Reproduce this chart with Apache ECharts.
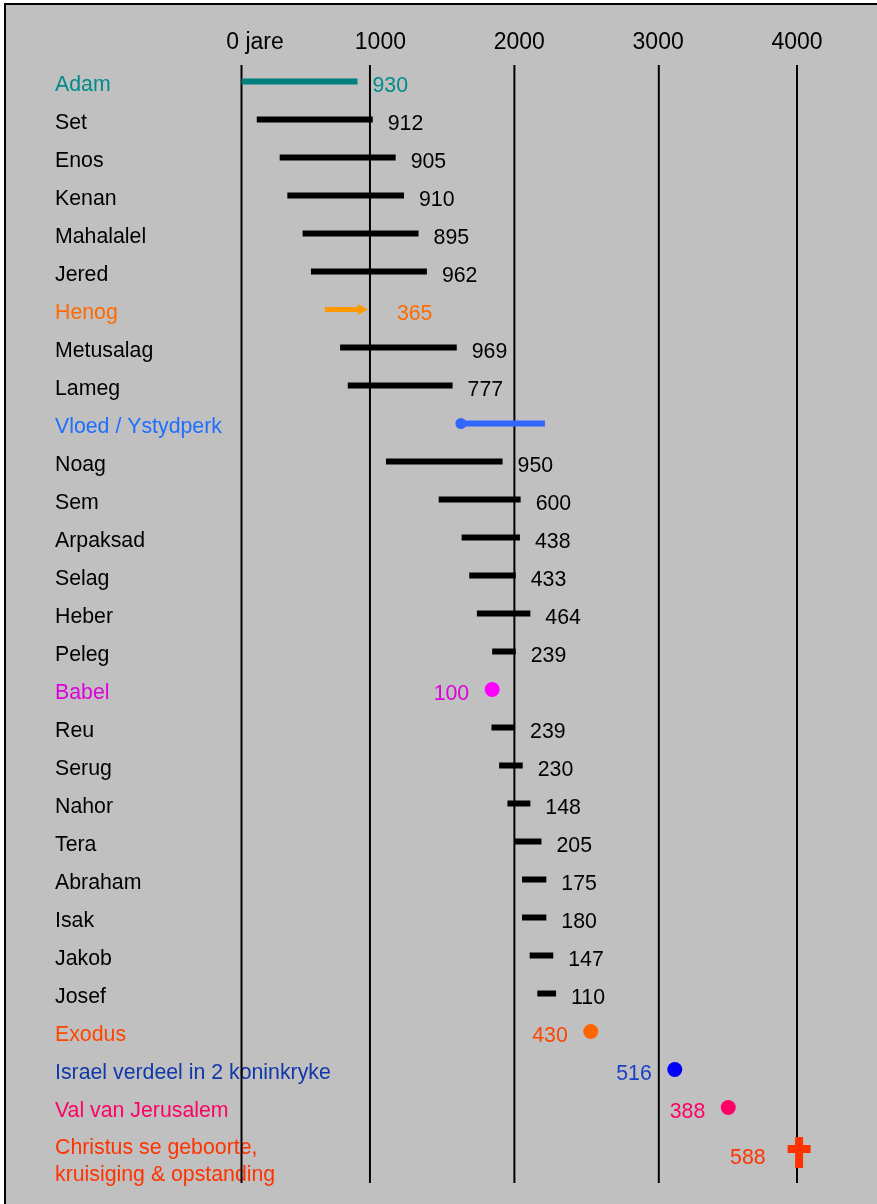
<!DOCTYPE html>
<html>
<head>
<meta charset="utf-8">
<script src="https://cdn.jsdelivr.net/npm/echarts@6/dist/echarts.min.js"></script>
<style>
html,body{margin:0;padding:0;background:#fff;}
#c{width:877px;height:1204px;}
</style>
</head>
<body>
<div id="c"></div>
<script>
// ---- data ----
const names = ['Adam','Set','Enos','Kenan','Mahalalel','Jered','Henog','Metusalag','Lameg','Vloed / Ystydperk','Noag','Sem','Arpaksad','Selag','Heber','Peleg','Babel','Reu','Serug','Nahor','Tera','Abraham','Isak','Jakob','Josef','Exodus','Israel verdeel in 2 koninkryke','Val van Jerusalem','Christus se geboorte,\nkruisiging & opstanding'];
const kinds = ['bar','bar','bar','bar','bar','bar','arrow','bar','bar','flood','bar','bar','bar','bar','bar','bar','dot','bar','bar','bar','bar','bar','bar','bar','bar','dot','dot','dot','cross'];
const starts = [0,110,275,330,440,500,600,710,765,1580,1040,1420,1585,1640,1695,1805,1805,1800,1855,1915,1970,2020,2020,2075,2130,2515,3120,3505,4015];
const ends   = [835,945,1110,1170,1275,1335,910,1550,1520,2185,1880,2010,2005,1975,2080,1975,1805,1970,2025,2080,2160,2195,2195,2245,2265,2515,3120,3505,4015];
const years  = ['930','912','905','910','895','962','365','969','777','','950','600','438','433','464','239','100','239','230','148','205','175','180','147','110','430','516','388','588'];
const tickValues = [0,1000,2000,3000,4000];
const tickLabels = ['0 jare','1000','2000','3000','4000'];
const gridYears = [0,925,1965,3005,4000];

// ---- styles ----
const nameColors = {0:'#008B8B',6:'#FF6A00',9:'#1E6EFF',16:'#DD00DD',25:'#FF4400',26:'#1038A8',27:'#FF0066',28:'#FF3300'};
const valueColors = {0:'#008B8B',6:'#FF6A00',16:'#DD00DD',25:'#FF4400',26:'#1A40C8',27:'#FF0066',28:'#FF3300'};
const markColors = {0:'#007F7F',6:'#FF9900',9:'#3366FF',16:'#FF00FF',25:'#FF6600',26:'#0000FF',27:'#FF0066',28:'#FF3300'};
const FONT = '"Liberation Sans", Arial, sans-serif';
const FS = 21.3;

const chart = echarts.init(document.getElementById('c'));
const catData = names.map((n,i)=>({value:n, textStyle:{color:nameColors[i]||'#000',align:'left',fontSize:FS,fontFamily:FONT}}));
const rows = names.map((n,i)=>[i, starts[i], ends[i]]);

function renderRow(params, api){
  const i = api.value(0);
  const s = api.value(1), e = api.value(2);
  const a = api.coord([s,i]), b = api.coord([e,i]);
  const kind = kinds[i];
  const mc = markColors[i] || '#000';
  const vc = valueColors[i] || '#000';
  const txt = (x,y,t,align)=>({type:'text',style:{x:x,y:y,text:t,fill:vc,fontSize:FS,fontFamily:FONT,align:align,verticalAlign:'middle'}});
  const ch = [];
  const y = a[1];
  if(kind==='bar'){
    ch.push({type:'line',shape:{x1:a[0],y1:y,x2:b[0],y2:y},style:{stroke:mc,lineWidth:6,lineCap:'butt'}});
    ch.push(txt(b[0]+15,y+4.5,years[i],'left'));
  } else if(kind==='arrow'){
    ch.push({type:'line',shape:{x1:a[0],y1:y,x2:b[0]-8,y2:y},style:{stroke:mc,lineWidth:5}});
    ch.push({type:'polygon',shape:{points:[[b[0]-10,y-5.5],[b[0],y],[b[0]-10,y+5.5]]},style:{fill:mc}});
    ch.push(txt(b[0]+29,y+4.5,years[i],'left'));
  } else if(kind==='flood'){
    ch.push({type:'line',shape:{x1:a[0],y1:y,x2:b[0],y2:y},style:{stroke:mc,lineWidth:6}});
    ch.push({type:'circle',shape:{cx:a[0],cy:y,r:5.5},style:{fill:mc}});
  } else if(kind==='dot'){
    ch.push({type:'circle',shape:{cx:a[0],cy:y,r:7.5},style:{fill:mc}});
    ch.push(txt(a[0]-23,y+4.5,years[i],'right'));
  } else if(kind==='cross'){
    ch.push({type:'rect',shape:{x:a[0]-4,y:y-8.5,width:8,height:31},style:{fill:mc}});
    ch.push({type:'rect',shape:{x:a[0]-11.5,y:y-0.5,width:23,height:8},style:{fill:mc}});
    ch.push(txt(a[0]-33.5,y+13,years[i],'right'));
  }
  return {type:'group',children:ch};
}

function renderGrid(params, api){
  const v = api.value(0);
  const t = api.coord([v,0]);
  const bt = api.coord([v,names.length-1]);
  return {type:'line',shape:{x1:t[0],y1:t[1]-16.5,x2:t[0],y2:bt[1]+37.5},style:{stroke:'#000',lineWidth:2}};
}

function nameFormatter(v){
  const parts = String(v).split('\n');
  if(parts.length===1) return '{n|'+v+'}';
  return '{c1|'+parts[0]+'}\n{c2|'+parts[1]+'}';
}

chart.setOption({
  backgroundColor:'#ffffff',
  animation:false,
  graphic:[{type:'rect',z:-100,silent:true,shape:{x:5,y:4,width:900,height:1230},style:{fill:'#C0C0C0',stroke:'#000',lineWidth:2}}],
  grid:{left:241.5,right:80,top:62.5,bottom:39.5,containLabel:false,outerBoundsMode:'none'},
  xAxis:{type:'value',position:'top',min:0,max:4000,interval:1000,
    axisLine:{show:false},axisTick:{show:false},splitLine:{show:false},
    axisLabel:{margin:8,fontSize:23,fontFamily:FONT,color:'#000',
      formatter:function(v){const k=tickValues.indexOf(v);return k===0?'{z|'+tickLabels[0]+'}':tickLabels[k];},
      rich:{z:{fontSize:23,fontFamily:FONT,color:'#000',padding:[0,0,0,27]}}}},
  yAxis:{type:'category',inverse:true,data:catData,
    axisLine:{show:false},axisTick:{show:false},splitLine:{show:false},
    axisLabel:{align:'left',margin:186.5,fontSize:FS,fontFamily:FONT,color:'#000',interval:0,
      formatter:nameFormatter,
      rich:{
        n:{fontSize:FS,fontFamily:FONT,padding:[8,0,0,0]},
        c1:{fontSize:FS,fontFamily:FONT,padding:[33,0,0,0]},
        c2:{fontSize:FS,fontFamily:FONT,padding:[6,0,0,0]}
      }}},
  series:[
    {type:'custom',z:1,renderItem:renderGrid,data:gridYears.map(v=>[v]),encode:{x:0},silent:true},
    {type:'custom',z:2,renderItem:renderRow,data:rows,encode:{x:[1,2],y:0},silent:true}
  ]
});
</script>
</body>
</html>
